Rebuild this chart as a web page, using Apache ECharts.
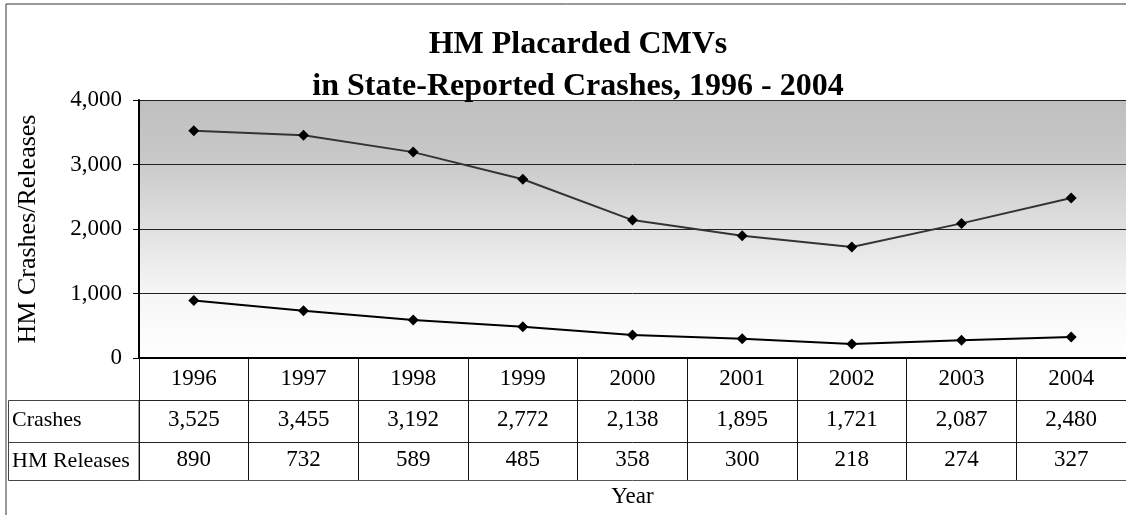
<!DOCTYPE html>
<html>
<head>
<meta charset="utf-8">
<script src="https://cdn.jsdelivr.net/npm/echarts@6/dist/echarts.min.js"></script>
<style>
  html, body { margin: 0; padding: 0; background: #fff; }
  #chart { width: 1126px; height: 515px; }
</style>
</head>
<body>
<div id="chart"></div>
<script>
// data
var years = ['1996', '1997', '1998', '1999', '2000', '2001', '2002', '2003', '2004']
var crashes = [3525, 3455, 3192, 2772, 2138, 1895, 1721, 2087, 2480]
var releases = [890, 732, 589, 485, 358, 300, 218, 274, 327]

var font = '"Liberation Serif", "Times New Roman", serif'
var fmt = function (v) { return Number(v).toLocaleString('en-US') }

var myChart = echarts.init(document.getElementById('chart'))

// table rows are extra category axes stacked under the plot
function tableAxis (data, offset, tickLen, margin, name, namePad) {
  return {
    type: 'category',
    position: 'bottom',
    offset: offset,
    data: data,
    boundaryGap: true,
    axisLine: { show: true, lineStyle: { color: '#222', width: 1 } },
    axisTick: { show: true, interval: 0, length: tickLen, lineStyle: { color: '#111', width: 1 } },
    axisLabel: { interval: 0, margin: margin, color: '#000', fontSize: 23, fontFamily: font },
    name: name,
    nameLocation: 'start',
    nameGap: 127,
    nameTextStyle: { align: 'left', verticalAlign: 'top', padding: [namePad, 0, 0, 0], color: '#000', fontSize: 22, fontFamily: font }
  }
}

myChart.setOption({
  animation: false,
  title: {
    text: 'HM Placarded CMVs\nin State-Reported Crashes, 1996 - 2004',
    left: 578,
    top: 24,
    textAlign: 'center',
    padding: 0,
    textStyle: { fontFamily: font, fontWeight: 'bold', fontSize: 32, lineHeight: 42, color: '#000' }
  },
  grid: {
    left: 139, top: 100, width: 987, height: 258,
    show: true,
    borderWidth: 0,
    backgroundColor: new echarts.graphic.LinearGradient(0, 0, 0, 1, [
      { offset: 0, color: '#bfbfbf' },
      { offset: 0.22, color: '#c8c8c8' },
      { offset: 0.75, color: '#f6f6f6' },
      { offset: 1, color: '#ffffff' }
    ])
  },
  xAxis: [
    {
      type: 'category',
      position: 'bottom',
      data: years,
      boundaryGap: true,
      axisLine: { show: true, lineStyle: { color: '#000', width: 2 } },
      axisTick: { show: true, interval: 0, length: 42, lineStyle: { color: '#111', width: 1 } },
      axisLabel: { interval: 0, margin: 9, color: '#000', fontSize: 23, fontFamily: font }
    },
    tableAxis(crashes.map(fmt), 42, 42, 8, 'Crashes', 9),
    tableAxis(releases.map(fmt), 84, 38, 6, 'HM Releases', 8),
    {
      type: 'category',
      position: 'bottom',
      offset: 122,
      data: years,
      axisLine: { show: true, lineStyle: { color: '#555', width: 1 } },
      axisTick: { show: false },
      axisLabel: { show: false },
      name: 'Year',
      nameLocation: 'middle',
      nameGap: 5,
      nameTextStyle: { verticalAlign: 'top', color: '#000', fontSize: 23, fontFamily: font }
    }
  ],
  yAxis: {
    type: 'value',
    min: 0,
    max: 4000,
    interval: 1000,
    axisLine: { show: true, lineStyle: { color: '#000', width: 2 } },
    axisTick: { show: true, length: 6, lineStyle: { color: '#000' } },
    axisLabel: { margin: 17, color: '#000', fontSize: 23, fontFamily: font, formatter: fmt },
    splitLine: { show: true, lineStyle: { color: '#222', width: 1 } },
    name: 'HM Crashes/Releases',
    nameLocation: 'middle',
    nameRotate: 90,
    nameGap: 98,
    nameTextStyle: { color: '#000', fontSize: 26, fontFamily: font }
  },
  series: [
    {
      name: 'Crashes',
      type: 'line',
      data: crashes,
      symbol: 'diamond',
      symbolSize: 11,
      itemStyle: { color: '#000' },
      lineStyle: { color: '#333', width: 2 }
    },
    {
      name: 'HM Releases',
      type: 'line',
      data: releases,
      symbol: 'diamond',
      symbolSize: 11,
      itemStyle: { color: '#000' },
      lineStyle: { color: '#000', width: 2 }
    }
  ],
  graphic: [
    // outer chart frame
    { type: 'rect', shape: { x: 6, y: 4, width: 1130, height: 520 }, style: { fill: 'none', stroke: '#333', lineWidth: 1 }, silent: true },
    // left column of the data table
    { type: 'rect', shape: { x: 8.5, y: 400.5, width: 130.5, height: 80 }, style: { fill: 'none', stroke: '#444', lineWidth: 1 }, silent: true },
    { type: 'line', shape: { x1: 8.5, y1: 442.5, x2: 139, y2: 442.5 }, style: { stroke: '#444', lineWidth: 1 }, silent: true }
  ]
})
</script>
</body>
</html>
